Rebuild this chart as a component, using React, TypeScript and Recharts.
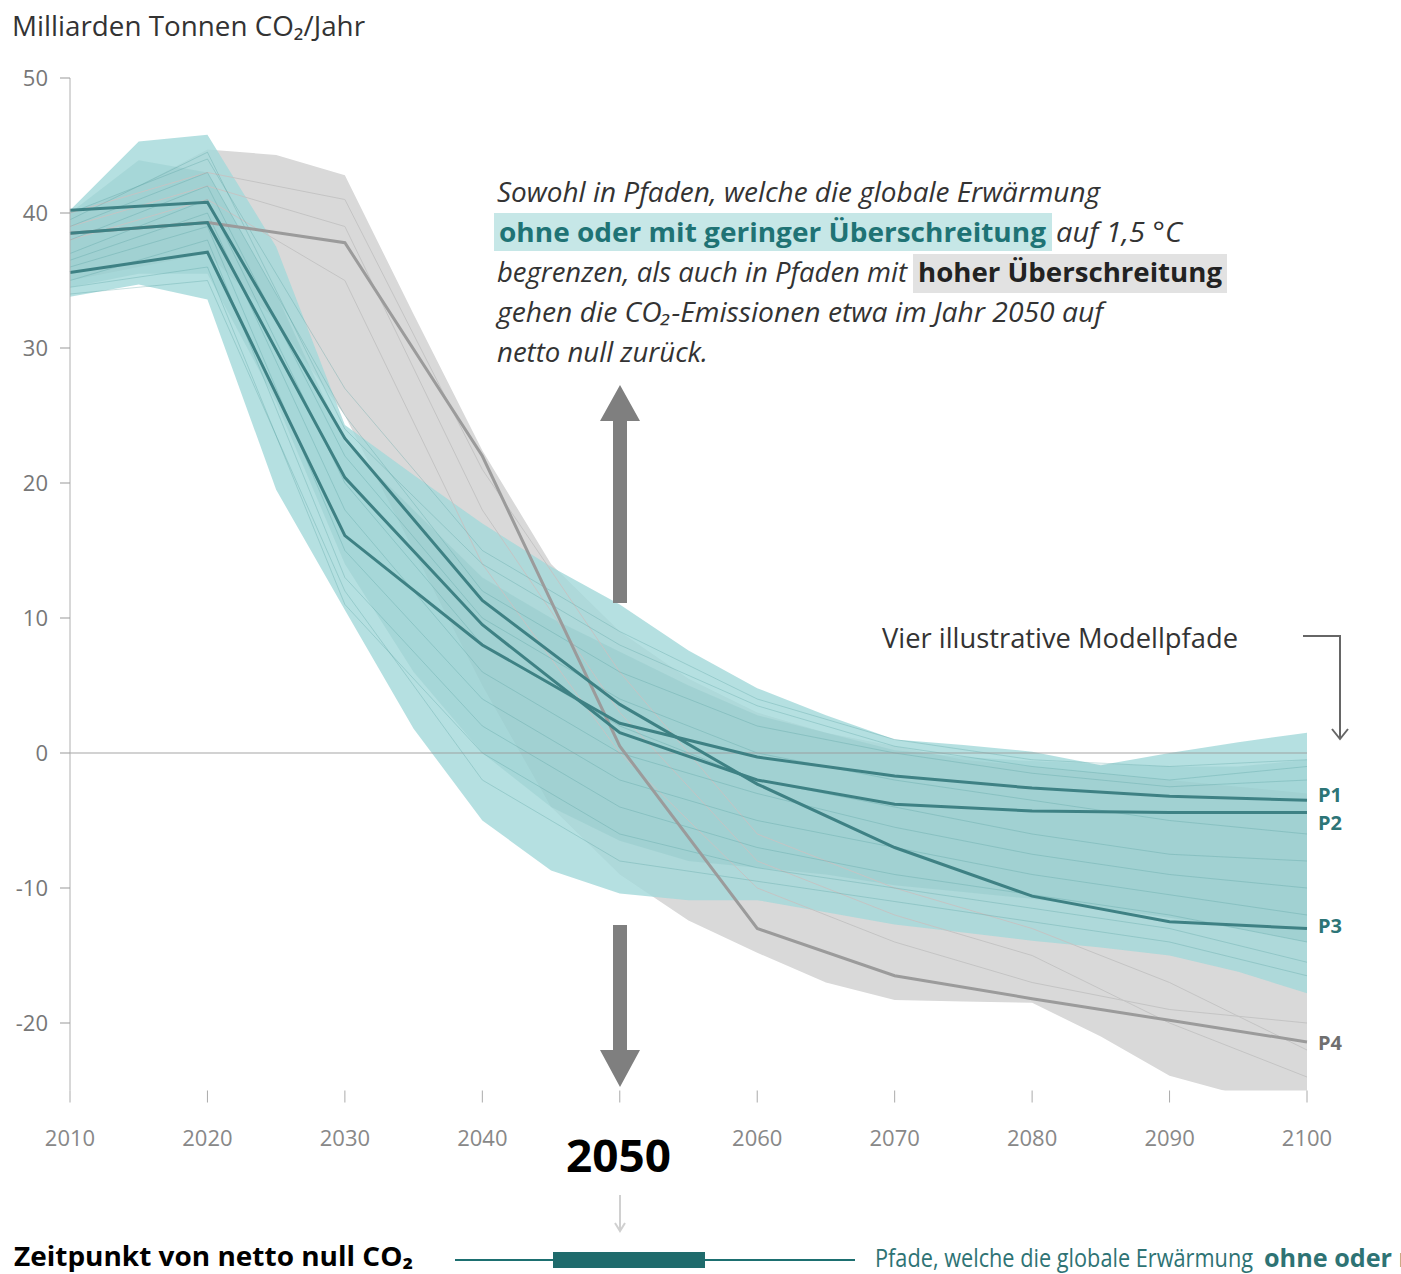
import React from "react";
import { Area, ComposedChart, Line, ReferenceLine, XAxis, YAxis } from "recharts";

// years on which the bands are sampled
const years = [2010, 2015, 2020, 2025, 2030, 2035, 2040, 2045, 2050, 2055, 2060, 2065, 2070, 2075, 2080, 2085, 2090, 2095, 2100];

// pathways without / with low overshoot (teal)
const tealOuterLow = [33.8, 34.7, 33.6, 19.5, 10.6, 1.8, -5, -8.7, -10.4, -10.9, -10.9, -11.8, -12.7, -13.3, -13.9, -14.4, -15, -16.2, -17.8];
const tealOuterHigh = [40.2, 45.3, 45.8, 37.5, 24.3, 20.6, 17, 13.8, 11, 7.6, 4.8, 2.8, 1.0, 0.6, 0.1, -0.9, 0, 0.8, 1.5];
const tealInnerLow = [34.5, 35.5, 35.5, 26, 14, 6, 0, -4, -6.5, -8, -8.5, -9, -9.8, -10.3, -10.8, -11.5, -12.2, -13, -14];
const tealInnerHigh = [40, 43.9, 43, 34, 23, 18, 13, 10, 7.5, 5, 2.8, 1.5, 0.2, -0.3, -0.6, -0.8, -1, -1, -0.5];

// pathways with high overshoot (gray)
const grayLow = [35, 36, 37, 32, 25, 15, 5, -4, -9, -12.4, -14.8, -17, -18.3, -18.4, -18.5, -21, -23.9, -25.3, -25.3];
const grayHigh = [40, 42, 44.7, 44.3, 42.8, 32.5, 22.4, 14, 9, 5.5, 3, 1.5, 0.5, -0.5, -1, -1.5, -2, -2.5, -3];

// decade values for single pathways
const decadeYears = [2010, 2020, 2030, 2040, 2050, 2060, 2070, 2080, 2090, 2100];
const p1 = [35.6, 37.1, 16.1, 8.0, 2.2, -0.3, -1.7, -2.6, -3.2, -3.5];
const p2 = [38.5, 39.3, 20.4, 9.5, 1.5, -2.0, -3.8, -4.3, -4.4, -4.4];
const p3 = [40.2, 40.8, 23.3, 11.3, 3.6, -2.3, -7.0, -10.6, -12.5, -13.0];
const p4 = [38.5, 39.3, 37.8, 22.0, 0.5, -13.0, -16.5, -18.2, -19.8, -21.4];

const tealPathways = [
  [40, 44, 27, 15, 9, 4, 1, -0.5, -1, -0.5],
  [39, 43, 25, 12, 6, 2, 0, -1.5, -2.5, -2],
  [38, 42, 22, 10, 4, 0, -2, -3.5, -5, -6],
  [37, 41, 20, 8, 2, -2, -4, -6, -7.5, -8],
  [36.5, 40, 18, 6, 0, -3, -5.5, -7.5, -9, -10],
  [36, 39, 15, 4, -2, -5, -7, -9, -10.5, -12],
  [35, 38, 13, 2, -4, -7, -9, -10.5, -12, -14],
  [34.5, 36, 11, 0, -6, -8.5, -10, -11.5, -13, -15.5],
  [34, 35, 12, -2, -8, -9.5, -11, -12.5, -14, -16.5],
  [39.5, 44.5, 24, 14, 8, 3.5, 0.5, -1, -2, -1],
];
const grayPathways = [
  [40, 43, 41, 21, 6, -6, -10, -13, -17, -22],
  [39, 42, 39, 18, 3, -8, -12, -15, -20, -24],
  [38, 41, 35, 14, 0, -10, -14, -17, -19, -20],
];

const yTicks = [-20, -10, 0, 10, 20, 30, 40, 50];
// 2050 gets the big bold label instead of a tick label
const highlightYear = 2050;

const data = years.map((year, i) => {
  const d = decadeYears.indexOf(year);
  const at = (arr: number[]) => (d >= 0 ? arr[d] : null);
  const row: Record<string, any> = {
    year,
    tealOuter: [tealOuterLow[i], tealOuterHigh[i]],
    tealInner: [tealInnerLow[i], tealInnerHigh[i]],
    gray: [grayLow[i], grayHigh[i]],
    p1: at(p1),
    p2: at(p2),
    p3: at(p3),
    p4: at(p4),
  };
  tealPathways.forEach((arr, k) => (row["t" + k] = at(arr)));
  grayPathways.forEach((arr, k) => (row["g" + k] = at(arr)));
  return row;
});

const FONT = '"Open Sans", "DejaVu Sans", sans-serif';

function endLabel(text: string, color: string, dy: number) {
  return (props: any) => {
    const { x, y, index } = props;
    if (index !== years.length - 1 || x == null || y == null) return <g />;
    return (
      <text x={x + 11} y={y + dy} fill={color} fontSize={20} fontWeight={700} fontFamily={FONT} dominantBaseline="central">
        {text}
      </text>
    );
  };
}

function Overlay() {
  const it = { fontFamily: FONT, fontStyle: "italic" as const, fontSize: 27, fill: "#333", lengthAdjust: "spacingAndGlyphs" };
  return (
    <svg width={1401} height={1274} style={{ position: "absolute", left: 0, top: 0, pointerEvents: "none" }}>
      <text x={12} y={36} fontFamily={FONT} fontSize={28} fill="#333" textLength={353} lengthAdjust="spacingAndGlyphs">
        Milliarden Tonnen CO₂/Jahr
      </text>

      {/* annotation */}
      <text x={497} y={202} {...it} textLength={603}>Sowohl in Pfaden, welche die globale Erwärmung</text>
      <rect x={494} y={213} width={558} height={38} fill="#c6e7e7" />
      <text x={499} y={242} fontFamily={FONT} fontWeight={700} fontSize={27} fill="#1f7375" textLength={547} lengthAdjust="spacingAndGlyphs">
        ohne oder mit geringer Überschreitung
      </text>
      <text x={1056} y={242} {...it} textLength={126}>auf 1,5 °C</text>
      <text x={497} y={282} {...it} textLength={410}>begrenzen, als auch in Pfaden mit</text>
      <rect x={913} y={254} width={314} height={39} fill="#e2e2e2" />
      <text x={918} y={282} fontFamily={FONT} fontWeight={700} fontSize={27} fill="#222" textLength={304} lengthAdjust="spacingAndGlyphs">
        hoher Überschreitung
      </text>
      <text x={497} y={322} {...it} textLength={606}>gehen die CO₂-Emissionen etwa im Jahr 2050 auf</text>
      <text x={497} y={362} {...it} textLength={211}>netto null zurück.</text>

      {/* big arrows */}
      <polygon points="620,385 600,421 613,421 613,603 627,603 627,421 640,421" fill="#7f7f7f" />
      <polygon points="613,925 627,925 627,1050 640,1050 620,1087 600,1050 613,1050" fill="#7f7f7f" />

      {/* illustrative pathways note */}
      <text x={882} y={648} fontFamily={FONT} fontSize={28} fill="#333" textLength={356} lengthAdjust="spacingAndGlyphs">
        Vier illustrative Modellpfade
      </text>
      <path d="M1303 636 H1340 V738" fill="none" stroke="#666" strokeWidth={2} />
      <path d="M1332 729 L1340 739 L1348 729" fill="none" stroke="#666" strokeWidth={2} />

      <text x={566} y={1172} fontFamily={FONT} fontWeight={700} fontSize={44} fill="#000" textLength={105} lengthAdjust="spacingAndGlyphs">
        2050
      </text>
      <line x1={620} y1={1195} x2={620} y2={1230} stroke="#d0d0d0" strokeWidth={2} />
      <path d="M615 1223 L620 1231 L625 1223" fill="none" stroke="#d0d0d0" strokeWidth={2} />

      {/* bottom strip */}
      <text x={14} y={1266} fontFamily={FONT} fontWeight={700} fontSize={26} fill="#000" textLength={399} lengthAdjust="spacingAndGlyphs">
        Zeitpunkt von netto null CO₂
      </text>
      <line x1={455} y1={1260} x2={855} y2={1260} stroke="#1d6f70" strokeWidth={2} />
      <rect x={553} y={1252} width={152} height={16} fill="#1f6b6c" />
      <text x={875} y={1267} fontFamily={FONT} fontSize={25} fill="#2e7374" textLength={378} lengthAdjust="spacingAndGlyphs">
        Pfade, welche die globale Erwärmung
      </text>
      <text x={1264} y={1267} fontFamily={FONT} fontWeight={700} fontSize={25} fill="#2e7374" textLength={492} lengthAdjust="spacingAndGlyphs">
        ohne oder mit geringer Überschreitung
      </text>
    </svg>
  );
}

export default function App() {
  return (
    <div style={{ position: "absolute", left: 0, top: 0, width: 1401, height: 1274, background: "#fff", fontFamily: FONT, overflow: "hidden" }}>
      <ComposedChart width={1401} height={1274} data={data} margin={{ top: 78, right: 94, bottom: 153.5, left: 0 }}>
        <XAxis
          dataKey="year"
          type="number"
          domain={[2010, 2100]}
          ticks={decadeYears}
          height={30}
          axisLine={false}
          tickLine={{ stroke: "#aaa" }}
          tickSize={12}
          tickMargin={28}
          tickFormatter={(v) => (v === highlightYear ? "" : String(v))}
          tick={{ fill: "#888", fontSize: 22, fontFamily: FONT }}
        />
        <YAxis
          domain={[-25, 50]}
          ticks={yTicks}
          allowDataOverflow
          width={70}
          axisLine={{ stroke: "#b0b0b0" }}
          tickLine={{ stroke: "#999" }}
          tickSize={10}
          tickMargin={12}
          tick={{ fill: "#777", fontSize: 22, fontFamily: FONT }}
        />

        <Area dataKey="gray" type="linear" stroke="none" fill="#d9d9d9" fillOpacity={1} isAnimationActive={false} />
        {grayPathways.map((_, k) => (
          <Line key={"g" + k} dataKey={"g" + k} type="linear" stroke="#c4c4c4" strokeWidth={1} dot={false} connectNulls isAnimationActive={false} />
        ))}
        <Area dataKey="tealOuter" type="linear" stroke="none" fill="#a2d8d9" fillOpacity={0.8} isAnimationActive={false} />
        <Area dataKey="tealInner" type="linear" stroke="none" fill="#6fb4b6" fillOpacity={0.2} isAnimationActive={false} />
        {tealPathways.map((_, k) => (
          <Line key={"t" + k} dataKey={"t" + k} type="linear" stroke="#4f9a9c" strokeOpacity={0.3} strokeWidth={1} dot={false} connectNulls isAnimationActive={false} />
        ))}
        <ReferenceLine y={0} stroke="#999" strokeOpacity={0.6} strokeWidth={1.5} />

        <Line dataKey="p4" type="linear" stroke="#9b9b9b" strokeWidth={3} dot={false} connectNulls isAnimationActive={false} label={endLabel("P4", "#6f6f6f", 1)} />
        <Line dataKey="p3" type="linear" stroke="#3e8184" strokeWidth={3} dot={false} connectNulls isAnimationActive={false} label={endLabel("P3", "#2d7577", -3)} />
        <Line dataKey="p2" type="linear" stroke="#3e8184" strokeWidth={3} dot={false} connectNulls isAnimationActive={false} label={endLabel("P2", "#2d7577", 10)} />
        <Line dataKey="p1" type="linear" stroke="#3e8184" strokeWidth={3} dot={false} connectNulls isAnimationActive={false} label={endLabel("P1", "#2d7577", -6)} />
      </ComposedChart>
      <Overlay />
    </div>
  );
}
